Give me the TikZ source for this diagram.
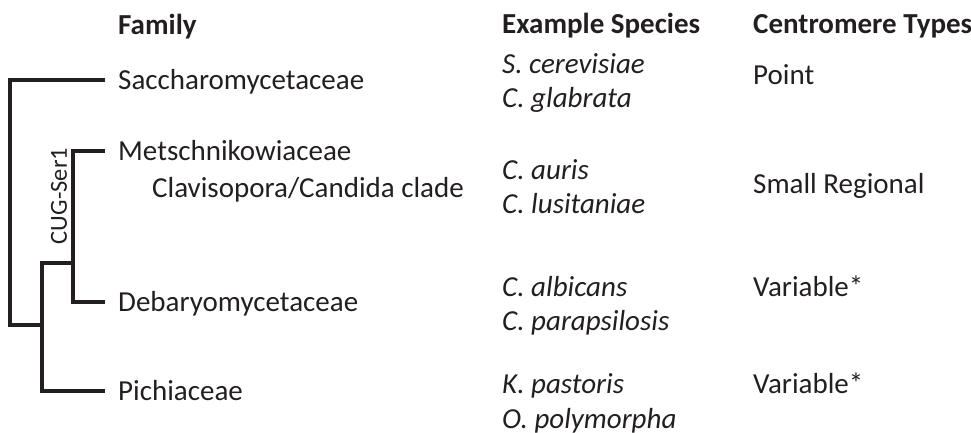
\documentclass[tikz,border=0pt]{standalone}
\usepackage{fontspec}
\setmainfont{Carlito}
\usetikzlibrary{positioning}
\definecolor{ink}{HTML}{231F20}

\begin{document}
\begin{tikzpicture}[x=1pt,y=-1pt,
  branch/.style={line width=4pt,line join=miter,draw=ink},
  txt/.style={inner sep=0pt,text=ink,font=\fontsize{29}{35}\selectfont},
  head/.style={txt,anchor=base west,font=\fontsize{29}{35}\selectfont\bfseries},
  fam/.style={txt,anchor=west,text height=20pt,text depth=2pt},
  spec/.style={txt,anchor=base west,font=\fontsize{29}{35}\selectfont\itshape},
  cen/.style={txt,anchor=base west}]
\useasboundingbox (0,0) rectangle (971,432);
% column heads
\node[head] (hfam) at (118,34) {Family};
\node[head] (hspec) at (502,33) {Example Species};
\node[head] (hcen) at (753,33) {Centromere Types};
% families
\node[fam] (sacc) at (118,80) {Saccharomycetaceae};
\node[fam] (metsch) at (118,151) {Metschnikowiaceae};
\node[txt,anchor=base west] (clav) at (152,197) {Clavisopora/Candida clade};
\node[fam] (deba) at (118,302) {Debaryomycetaceae};
\node[fam] (pich) at (118,391) {Pichiaceae};
% tree
\coordinate (root) at (10,325);
\coordinate (pc) at (42,325);
\coordinate (cug) at (73,263);
\draw[branch,shorten <=13pt] (sacc.west) -| (root) -- (pc);
\draw[branch,shorten <=13pt,shorten >=13pt] (metsch.west) -| (cug) |- (deba.west);
\draw[branch,shorten >=13pt] (cug) -| (pc) |- (pich.west);
\node[txt,font=\fontsize{24.5}{28}\selectfont,rotate=90] (cuglab) at (59,196) {CUG-Ser1};
% species
\foreach \y/\n/\s in {73/scer/S. cerevisiae,107/cgla/C. glabrata,
  179/caur/C. auris,213/clus/C. lusitaniae,
  296/calb/C. albicans,330/cpar/C. parapsilosis,
  393/kpas/K. pastoris,428/opol/O. polymorpha}
  \node[spec] (\n) at (502,\y) {\s};
% centromere types
\node[cen] (point) at (753,84) {Point};
\node[cen] (smreg) at (753,193) {Small Regional};
\node[cen] (var1) at (753,296) {Variable*};
\node[cen] (var2) at (753,393) {Variable*};
\end{tikzpicture}
\end{document}
